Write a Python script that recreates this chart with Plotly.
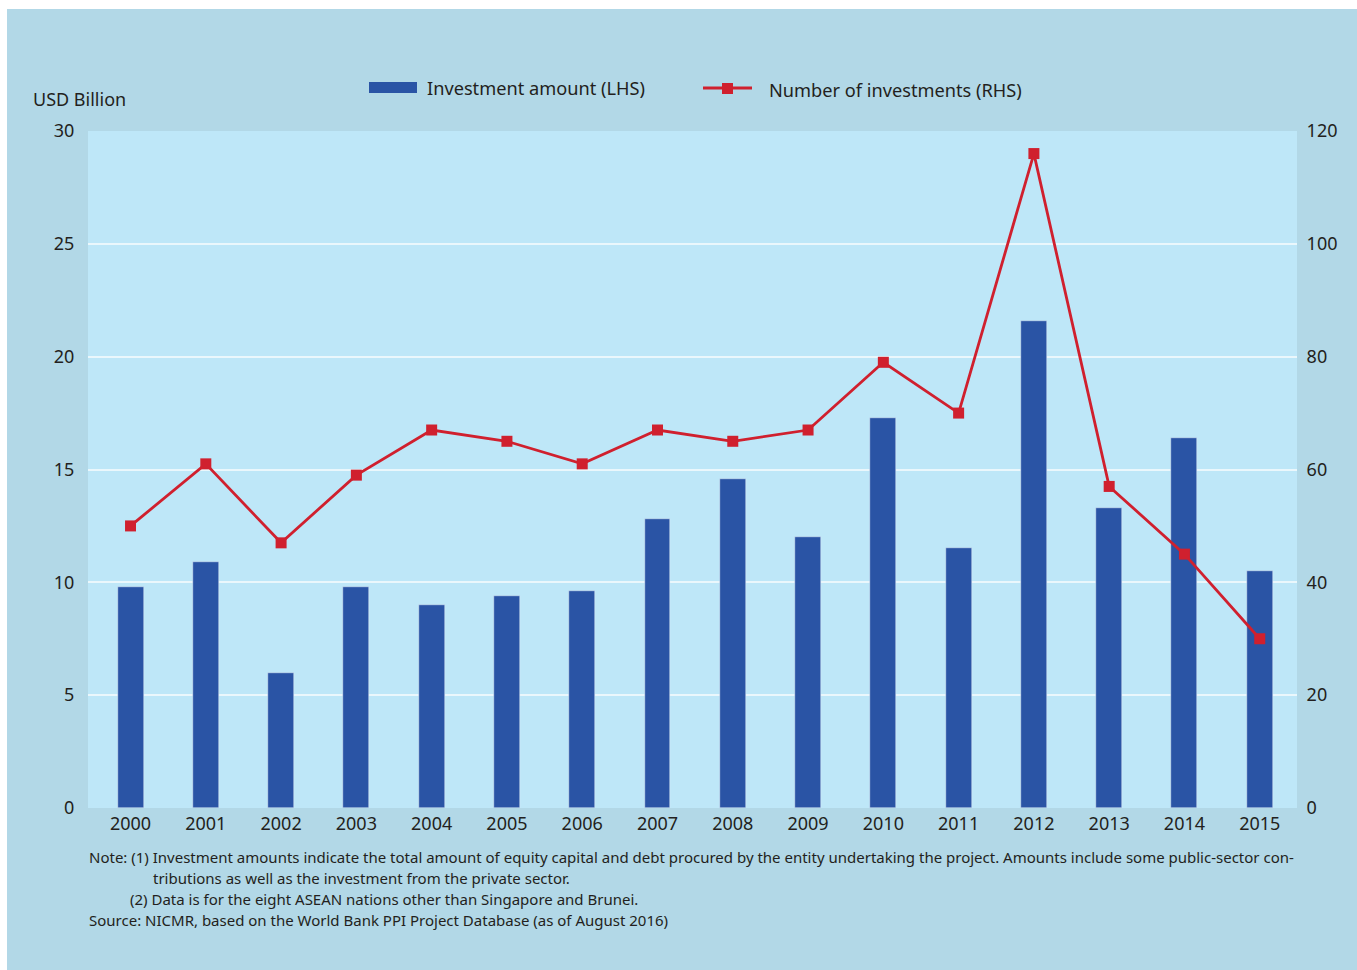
import plotly.graph_objects as go

years = list(range(2000, 2016))
investment_amount = [9.8, 10.9, 6.0, 9.8, 9.0, 9.4, 9.6, 12.8, 14.6, 12.0, 17.3, 11.5, 21.6, 13.3, 16.4, 10.5]
number_of_investments = [50, 61, 47, 59, 67, 65, 61, 67, 65, 67, 79, 70, 116, 57, 45, 30]
left_ticks = [0, 5, 10, 15, 20, 25, 30]
right_ticks = [0, 20, 40, 60, 80, 100, 120]

BAR = "#2a54a5"
LINE = "#d0202e"
TXT = "#231f20"
OUTER = "#b2d8e7"
INNER = "#bee7f8"
FONT = "Noto Sans"

W, H = 1357, 970
L, R, T, B = 88, 1297, 131, 808

def px(x):
    return (x - L) / (R - L)

def py(y):
    return (B - y) / (B - T)

fig = go.Figure()
fig.add_trace(go.Bar(x=years, y=investment_amount, marker_color=BAR, width=0.345,
                     name="Investment amount (LHS)", showlegend=False))
fig.add_trace(go.Scatter(x=years, y=number_of_investments, yaxis="y2", mode="lines+markers",
                         line=dict(color=LINE, width=2.8),
                         marker=dict(symbol="square", size=11, color=LINE),
                         name="Number of investments (RHS)", showlegend=False))

shapes = [
    dict(type="rect", xref="paper", yref="paper", x0=px(7), x1=px(W + 5), y0=py(H + 5), y1=py(9),
         fillcolor=OUTER, line=dict(width=0), layer="below"),
    dict(type="rect", xref="paper", yref="paper", x0=0, x1=1, y0=0, y1=1,
         fillcolor=INNER, line=dict(width=0), layer="below"),
    # legend symbols
    dict(type="rect", xref="paper", yref="paper", x0=px(369), x1=px(417), y0=py(93), y1=py(82),
         fillcolor=BAR, line=dict(width=0)),
    dict(type="line", xref="paper", yref="paper", x0=px(703), x1=px(752), y0=py(88), y1=py(88),
         line=dict(color=LINE, width=2.8)),
    dict(type="rect", xref="paper", yref="paper", x0=px(722), x1=px(733), y0=py(94), y1=py(83),
         fillcolor=LINE, line=dict(width=0)),
]

NF = 15
annotations = [
    dict(text="Investment amount (LHS)", x=px(425), y=py(88), xanchor="left", yanchor="middle",
         font=dict(size=18.2, color=TXT, family=FONT)),
    dict(text="Number of investments (RHS)", x=px(767), y=py(90), xanchor="left", yanchor="middle",
         font=dict(size=18.2, color=TXT, family=FONT)),
    dict(text="USD Billion", x=px(31), y=py(99), xanchor="left", yanchor="middle",
         font=dict(size=18, color=TXT, family=FONT)),
    dict(text="Note: (1) Investment amounts indicate the total amount of equity capital and debt procured by the entity undertaking the project. Amounts include some public-sector con-",
         x=px(87), y=py(857), xanchor="left", yanchor="middle", font=dict(size=NF, color=TXT, family=FONT)),
    dict(text="tributions as well as the investment from the private sector.",
         x=px(151), y=py(878), xanchor="left", yanchor="middle", font=dict(size=NF, color=TXT, family=FONT)),
    dict(text="(2) Data is for the eight ASEAN nations other than Singapore and Brunei.",
         x=px(128), y=py(899), xanchor="left", yanchor="middle", font=dict(size=NF, color=TXT, family=FONT)),
    dict(text="Source: NICMR, based on the World Bank PPI Project Database (as of August 2016)",
         x=px(87), y=py(920), xanchor="left", yanchor="middle", font=dict(size=NF, color=TXT, family=FONT)),
]
for a in annotations:
    a.update(xref="paper", yref="paper", showarrow=False)

fig.update_layout(
    width=W, height=H,
    margin=dict(l=L, r=W - R, t=T, b=H - B, pad=0),
    paper_bgcolor="white",
    plot_bgcolor=INNER,
    font=dict(family=FONT, size=18, color=TXT),
    bargap=0,
    xaxis=dict(range=[2000 - 0.565, 2015 + 0.495], tickvals=years, ticktext=[str(y) for y in years],
               showgrid=False, zeroline=False, showline=False, ticks="", ticklabelstandoff=3,
               tickfont=dict(size=18, color=TXT)),
    yaxis=dict(range=[0, 30], tickvals=left_ticks, showgrid=True, gridcolor="#eaf7fc", gridwidth=1.5,
               zeroline=False, showline=False, ticks="outside", ticklen=9, tickcolor="rgba(0,0,0,0)",
               tickfont=dict(size=18, color=TXT)),
    yaxis2=dict(range=[0, 120], tickvals=right_ticks, overlaying="y", side="right", showgrid=False,
                zeroline=False, showline=False, ticks="outside", ticklen=5, tickcolor="rgba(0,0,0,0)",
                tickfont=dict(size=18, color=TXT)),
    shapes=shapes,
    annotations=annotations,
)

fig.write_html("out.html")
